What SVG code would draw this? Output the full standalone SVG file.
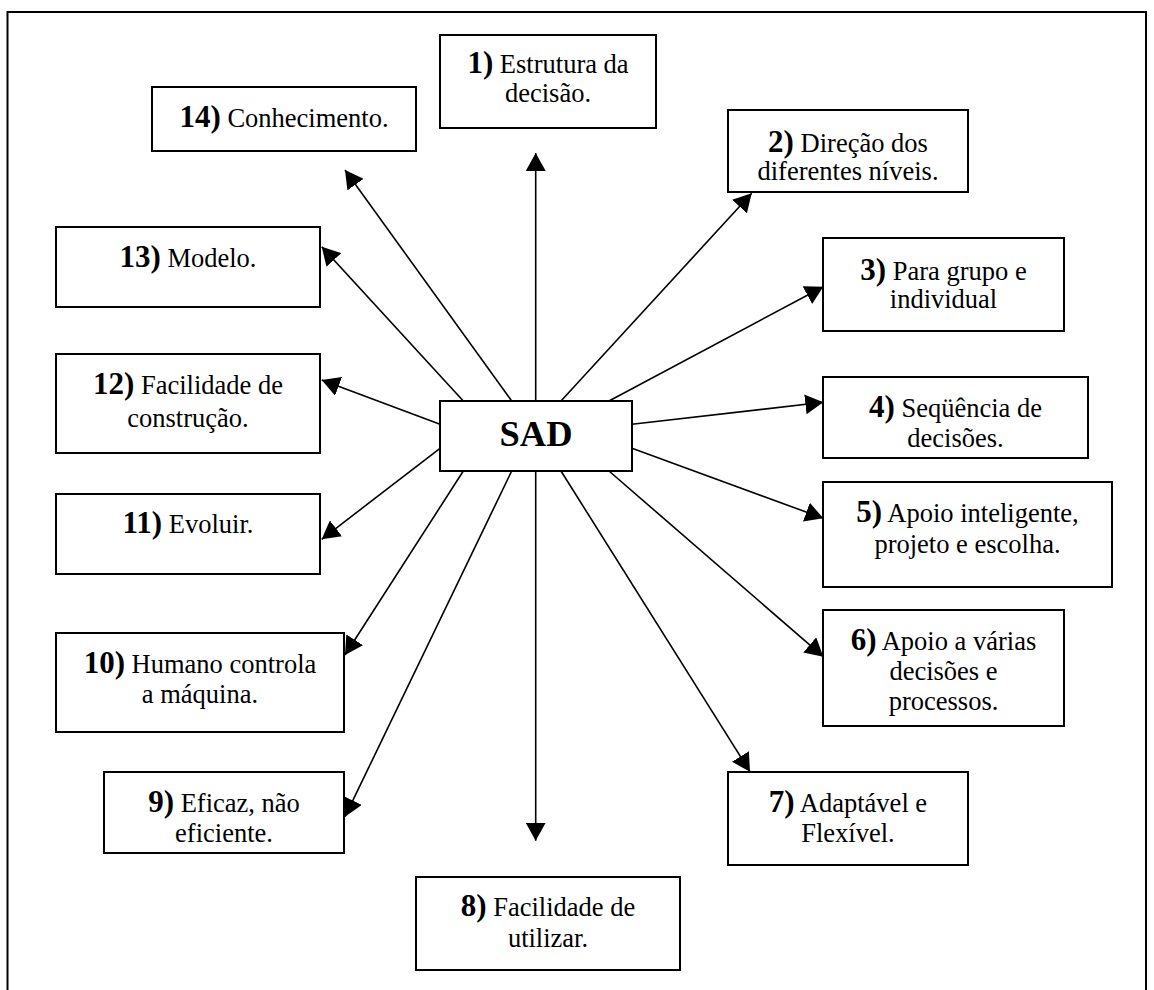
<svg xmlns="http://www.w3.org/2000/svg" width="1154" height="990" viewBox="0 0 1154 990">
  <style>
    .box{fill:#fff;stroke:#000;stroke-width:2}
    .t{font-family:"Liberation Serif","Times New Roman",serif;font-size:26.5px;fill:#000;text-anchor:middle}
    .n{font-weight:bold;font-size:31px}
    .big{font-family:"Liberation Serif","Times New Roman",serif;font-weight:bold;font-size:36.5px;fill:#000;text-anchor:middle}
    .c{stroke:#000;stroke-width:1.6;fill:none;marker-end:url(#ah)}
  </style>
  <defs>
    <marker id="ah" markerUnits="userSpaceOnUse" viewBox="0 0 18 20" refX="18" refY="10" markerWidth="18" markerHeight="20" orient="auto">
      <path d="M0,0 L18,10 L0,20 z" fill="#000"/>
    </marker>
  </defs>
  <rect width="1154" height="990" fill="#fff"/>
  <!-- page frame -->
  <path d="M7.5,995 V12 H1146 V995" fill="none" stroke="#000" stroke-width="2"/>

  <g id="connectors">
    <path class="c" d="M511.7,401 L345,170"/>
    <path class="c" d="M463.3,401 L321.7,246.7"/>
    <path class="c" d="M535.7,401 L535.7,153"/>
    <path class="c" d="M561,401 L751.7,193.3"/>
    <path class="c" d="M609,401 L823.3,286.7"/>
    <path class="c" d="M632,424.3 L823.3,402.3"/>
    <path class="c" d="M632,448.3 L823.3,518.3"/>
    <path class="c" d="M609,471 L823.3,656.7"/>
    <path class="c" d="M561,471 L750,771.7"/>
    <path class="c" d="M535.7,471 L535.7,840.7"/>
    <path class="c" d="M511.7,471 L345,816.7"/>
    <path class="c" d="M463.3,471 L345,655"/>
    <path class="c" d="M440,448.3 L321.7,539.3"/>
    <path class="c" d="M440,424.3 L321.7,380"/>
  </g>

  <g id="sad">
    <rect class="box" x="440" y="401" width="192" height="70"/>
    <text class="big" x="536" y="446">SAD</text>
  </g>

  <g id="n1">
    <rect class="box" x="440" y="35" width="216" height="93"/>
    <text class="t" x="548" y="73"><tspan class="n">1)</tspan> Estrutura da</text>
    <text class="t" x="548" y="102">decisão.</text>
  </g>
  <g id="n2">
    <rect class="box" x="728" y="110" width="240" height="82"/>
    <text class="t" x="848" y="151.5"><tspan class="n">2)</tspan> Direção dos</text>
    <text class="t" x="848" y="180">diferentes níveis.</text>
  </g>
  <g id="n3">
    <rect class="box" x="823" y="238" width="241" height="93"/>
    <text class="t" x="943.5" y="280"><tspan class="n">3)</tspan> Para grupo e</text>
    <text class="t" x="943.5" y="308">individual</text>
  </g>
  <g id="n4">
    <rect class="box" x="823" y="377" width="265" height="81"/>
    <text class="t" x="955.5" y="416.5"><tspan class="n">4)</tspan> Seqüência de</text>
    <text class="t" x="955.5" y="446.5">decisões.</text>
  </g>
  <g id="n5">
    <rect class="box" x="823" y="482" width="289" height="105"/>
    <text class="t" x="967.5" y="521.5"><tspan class="n">5)</tspan> Apoio inteligente,</text>
    <text class="t" x="967.5" y="553">projeto e escolha.</text>
  </g>
  <g id="n6">
    <rect class="box" x="823" y="610" width="241" height="116"/>
    <text class="t" x="943.5" y="650"><tspan class="n">6)</tspan> Apoio a várias</text>
    <text class="t" x="943.5" y="680">decisões e</text>
    <text class="t" x="943.5" y="710">processos.</text>
  </g>
  <g id="n7">
    <rect class="box" x="728" y="772" width="240" height="93"/>
    <text class="t" x="848" y="811.5"><tspan class="n">7)</tspan> Adaptável e</text>
    <text class="t" x="848" y="841.5">Flexível.</text>
  </g>
  <g id="n8">
    <rect class="box" x="416" y="877" width="264" height="93"/>
    <text class="t" x="548" y="916"><tspan class="n">8)</tspan> Facilidade de</text>
    <text class="t" x="548" y="946.5">utilizar.</text>
  </g>
  <g id="n9">
    <rect class="box" x="104" y="772" width="240" height="81"/>
    <text class="t" x="224" y="812"><tspan class="n">9)</tspan> Eficaz, não</text>
    <text class="t" x="224" y="842">eficiente.</text>
  </g>
  <g id="n10">
    <rect class="box" x="56" y="633" width="288" height="99"/>
    <text class="t" x="200" y="672.5"><tspan class="n">10)</tspan> Humano controla</text>
    <text class="t" x="200" y="703">a máquina.</text>
  </g>
  <g id="n11">
    <rect class="box" x="56" y="494" width="264" height="80"/>
    <text class="t" x="188" y="533"><tspan class="n">11)</tspan> Evoluir.</text>
  </g>
  <g id="n12">
    <rect class="box" x="56" y="354" width="264" height="99"/>
    <text class="t" x="188" y="394"><tspan class="n">12)</tspan> Facilidade de</text>
    <text class="t" x="188" y="426.5">construção.</text>
  </g>
  <g id="n13">
    <rect class="box" x="56" y="227" width="264" height="80"/>
    <text class="t" x="188" y="266.5"><tspan class="n">13)</tspan> Modelo.</text>
  </g>
  <g id="n14">
    <rect class="box" x="152" y="87" width="264" height="64"/>
    <text class="t" x="284" y="127"><tspan class="n">14)</tspan> Conhecimento.</text>
  </g>
</svg>
